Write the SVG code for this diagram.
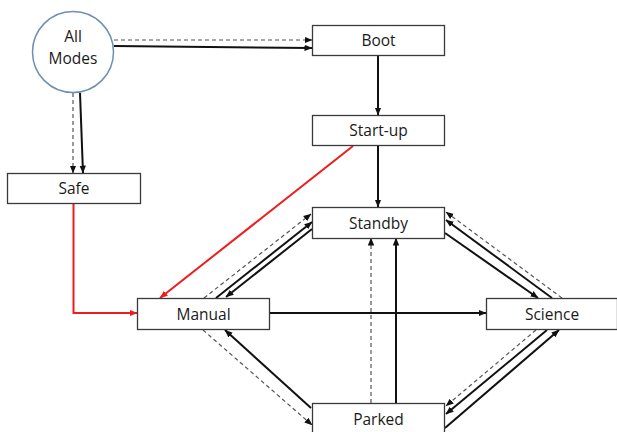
<svg xmlns="http://www.w3.org/2000/svg" width="617" height="432" viewBox="0 0 617 432">
<style>
.box{fill:#fff;stroke:#3a3a3a;stroke-width:1.3}
.lbl{font-family:"Open Sans","Liberation Sans",sans-serif;font-size:15.5px;fill:#1a1a1a;text-anchor:middle}
.s{stroke:#111;stroke-width:2;fill:none}
.d{stroke:#555;stroke-width:1.2;stroke-dasharray:4 3;fill:none}
.r{stroke:#ee1c1c;stroke-width:2;fill:none}
</style>
<defs>
<marker id="ak" markerUnits="userSpaceOnUse" markerWidth="8" markerHeight="8" viewBox="0 0 8 8" refX="7.5" refY="4" orient="auto"><path d="M0,0.8 L8,4 L0,7.2 Z" fill="#111"/></marker>
<marker id="ar" markerUnits="userSpaceOnUse" markerWidth="8" markerHeight="8" viewBox="0 0 8 8" refX="7.5" refY="4" orient="auto"><path d="M0,0.8 L8,4 L0,7.2 Z" fill="#ee1c1c"/></marker>
</defs>
<rect width="617" height="432" fill="#fff"/>
<g id="connectors">
<line class="d" x1="114" y1="40" x2="312" y2="40" marker-end="url(#ak)"/>
<line class="s" x1="114" y1="46" x2="312" y2="48" marker-end="url(#ak)"/>
<line class="d" x1="73" y1="93" x2="73" y2="173" marker-end="url(#ak)"/>
<line class="s" x1="80" y1="93" x2="83" y2="173" marker-end="url(#ak)"/>
<line class="s" x1="378" y1="56" x2="378" y2="115" marker-end="url(#ak)"/>
<line class="s" x1="378" y1="145" x2="378" y2="207" marker-end="url(#ak)"/>
<line class="r" x1="353" y1="146" x2="160" y2="298" marker-end="url(#ar)"/>
<polyline class="r" points="73.5,203 73.5,313 137,313" marker-end="url(#ar)"/>
<line class="d" x1="204" y1="298" x2="311" y2="214" marker-end="url(#ak)"/>
<line class="s" x1="216" y1="298" x2="312" y2="222" marker-end="url(#ak)"/>
<line class="s" x1="312" y1="229" x2="226" y2="297" marker-end="url(#ak)"/>
<line class="d" x1="562" y1="298" x2="446" y2="212" marker-end="url(#ak)"/>
<line class="s" x1="552" y1="298" x2="446" y2="220" marker-end="url(#ak)"/>
<line class="s" x1="445" y1="233" x2="538" y2="298" marker-end="url(#ak)"/>
<line class="d" x1="536" y1="330" x2="446" y2="406" marker-end="url(#ak)"/>
<line class="s" x1="547" y1="330" x2="446" y2="414" marker-end="url(#ak)"/>
<line class="s" x1="445" y1="428" x2="559" y2="330" marker-end="url(#ak)"/>
<line class="d" x1="203" y1="330" x2="312" y2="425" marker-end="url(#ak)"/>
<line class="s" x1="311" y1="408" x2="225" y2="330" marker-end="url(#ak)"/>
<line class="s" x1="270" y1="313" x2="486" y2="313" marker-end="url(#ak)"/>
<line class="d" x1="371" y1="403" x2="371" y2="238" marker-end="url(#ak)"/>
<line class="s" x1="396" y1="403" x2="396" y2="238" marker-end="url(#ak)"/>
</g>
<g id="allmodes"><circle cx="73" cy="52" r="40.5" fill="#fff" stroke="#6d8fb3" stroke-width="1.5"/><text class="lbl" x="73" y="42">All</text><text class="lbl" x="73" y="63.5">Modes</text></g>
<g id="boot"><rect class="box" x="312.5" y="25.5" width="132" height="30"/><text class="lbl" x="378.5" y="46">Boot</text></g>
<g id="startup"><rect class="box" x="312.5" y="115.5" width="132" height="30"/><text class="lbl" x="378.5" y="136">Start-up</text></g>
<g id="safe"><rect class="box" x="7.5" y="173.5" width="133" height="30"/><text class="lbl" x="74" y="194">Safe</text></g>
<g id="standby"><rect class="box" x="312.5" y="207.5" width="132" height="31"/><text class="lbl" x="378.5" y="228.5">Standby</text></g>
<g id="manual"><rect class="box" x="137.5" y="298.5" width="132" height="31"/><text class="lbl" x="203.5" y="319.5">Manual</text></g>
<g id="science"><rect class="box" x="486.5" y="298.5" width="131" height="31"/><text class="lbl" x="552" y="319.5">Science</text></g>
<g id="parked"><rect class="box" x="312.5" y="403.5" width="132" height="31"/><text class="lbl" x="378.5" y="424.5">Parked</text></g>
</svg>
